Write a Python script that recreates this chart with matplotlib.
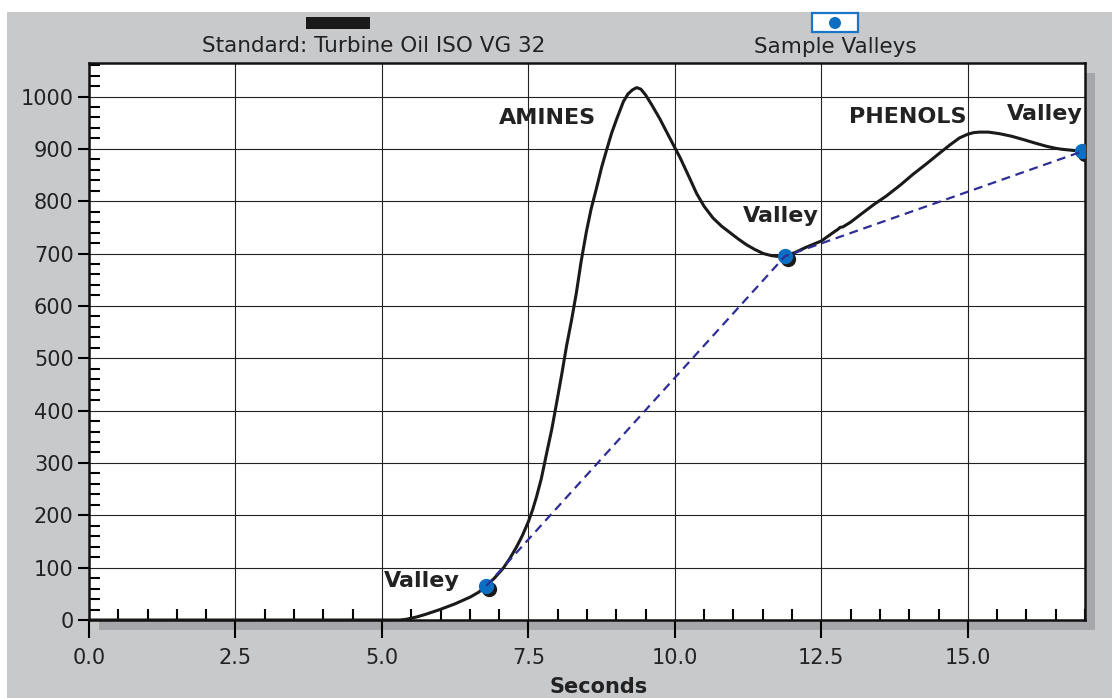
import matplotlib
matplotlib.use('Agg')
import matplotlib.pyplot as plt
from matplotlib.patches import Rectangle, Circle
from matplotlib.ticker import MultipleLocator, FormatStrFormatter
import matplotlib.transforms as mtransforms

# ---- data ----
seconds = [0.0, 1.0, 2.0, 3.0, 4.0, 5.0, 5.3, 5.4, 5.48, 5.6, 5.75, 5.99, 6.25,
           6.51, 6.65, 6.78, 6.92, 7.07, 7.18, 7.30, 7.40, 7.50, 7.57, 7.64,
           7.72, 7.81, 7.90, 7.98, 8.07, 8.15, 8.24, 8.32, 8.40, 8.49, 8.57,
           8.66, 8.75, 8.84, 8.92, 9.01, 9.12, 9.20, 9.28, 9.35, 9.42, 9.50,
           9.60, 9.74, 9.87, 10.0, 10.09, 10.26, 10.37, 10.50, 10.65, 10.80,
           10.94, 11.08, 11.22, 11.36, 11.51, 11.65, 11.80, 11.88, 12.05,
           12.24, 12.50, 12.70, 12.78, 12.82, 12.87, 13.0, 13.21, 13.40, 13.61,
           13.85, 14.06, 14.30, 14.52, 14.70, 14.86, 15.0, 15.10, 15.20, 15.35,
           15.54, 15.75, 15.94, 16.15, 16.34, 16.50, 16.62, 16.80, 16.95, 17.0]
response = [0, 0, 0, 0, 0, 0, 0, 1, 3, 6, 11, 20, 31,
            44, 53, 65, 80, 99, 117, 140, 162, 188, 210, 236,
            270, 318, 365, 414, 470, 523, 575, 626, 685, 742, 785,
            824, 865, 900, 930, 958, 990, 1005, 1013, 1017, 1014, 1003,
            985, 958, 930, 902, 883, 842, 815, 790, 768, 752,
            740, 728, 717, 708, 700, 696, 694, 695, 702,
            712, 724, 740, 746, 750, 751, 760, 778, 794, 810,
            831, 851, 872, 892, 908, 921, 928, 931, 932, 932,
            929, 924, 918, 911, 905, 901, 899, 897, 895, 895]

valley_x = [6.78, 11.88, 16.95]
valley_y = [65, 695, 895]

x_ticks = [0.0, 2.5, 5.0, 7.5, 10.0, 12.5, 15.0]
y_ticks = [0, 100, 200, 300, 400, 500, 600, 700, 800, 900, 1000]

labels = [("AMINES", 7.82, 959), ("PHENOLS", 13.98, 961),
          ("Valley", 16.31, 967), ("Valley", 11.81, 772), ("Valley", 5.68, 75)]

series_names = ["Standard: Turbine Oil ISO VG 32", "Sample Valleys"]
x_title = "Seconds"

# ---- figure ----
W, H = 1112, 698
fig = plt.figure(figsize=(W / 100, H / 100), dpi=100, facecolor='white')
plt.rcParams['font.family'] = ['DejaVu Sans']


def fx(px):
    return px / W


def fy(py):
    return 1 - py / H


BG = '#c8c9cb'
SHADOW = '#a6a7aa'
TXT = '#222222'

fig.patches.append(Rectangle((fx(7), 0), 1, fy(12), transform=fig.transFigure,
                             facecolor=BG, edgecolor='none', zorder=-10))

ax_l, ax_r, ax_t, ax_b = 89, 1085, 63, 620
fig.patches.append(Rectangle((fx(ax_l + 10), fy(ax_b + 10)), (ax_r - ax_l) / W,
                             (ax_b - ax_t) / H, transform=fig.transFigure,
                             facecolor=SHADOW, edgecolor='none', zorder=-5))
ax = fig.add_axes([fx(ax_l), fy(ax_b), (ax_r - ax_l) / W, (ax_b - ax_t) / H])
ax.set_facecolor('white')
ax.set_xlim(0, 17.0)
ax.set_ylim(0, 1064)

ax.set_xticks(x_ticks)
ax.set_yticks(y_ticks)
ax.xaxis.set_major_formatter(FormatStrFormatter('%.1f'))
ax.xaxis.set_minor_locator(MultipleLocator(0.5))
ax.yaxis.set_minor_locator(MultipleLocator(20))
ax.tick_params(axis='x', which='major', direction='out', length=13, width=1.5,
               labelsize=15, labelcolor=TXT, pad=7)
ax.tick_params(axis='y', which='major', direction='out', length=8, width=1.5,
               labelsize=15, labelcolor=TXT, pad=3)
ax.tick_params(which='minor', direction='in', length=8, width=1.5)
ax.grid(which='major', color='#222222', lw=0.8)
ax.set_axisbelow(True)
for s in ax.spines.values():
    s.set_linewidth(1.8)
    s.set_color('#111111')

ax.plot(seconds, response, color='#1a1a1a', lw=2.2, zorder=3,
        solid_joinstyle='round', solid_capstyle='round')

shadow_tr = ax.transData + mtransforms.ScaledTranslation(3 / 100, -3 / 100,
                                                         fig.dpi_scale_trans)
ax.plot(valley_x, valley_y, 'o', color='#1a1a1a', ms=11, mew=0,
        transform=shadow_tr, zorder=5)
ax.plot(valley_x, valley_y, 'o', color='#0a6fc2', ms=11, mew=0, zorder=6)
ax.plot(valley_x, valley_y, color='#2e2e96', lw=1.6, ls=(0, (4, 2.6)), zorder=7)

for txt, x, y in labels:
    ax.text(x, y, txt, ha='center', va='center', fontsize=16,
            fontweight='bold', color=TXT, zorder=8)

# ---- legend ----
fig.patches.append(Rectangle((fx(306), fy(29)), 64 / W, 12 / H,
                             transform=fig.transFigure, facecolor='#1a1a1a',
                             edgecolor='none'))
fig.text(fx(374), fy(46), series_names[0], ha='center', va='center',
         fontsize=15.5, color=TXT)
fig.patches.append(Rectangle((fx(812), fy(32)), 46 / W, 19 / H,
                             transform=fig.transFigure, facecolor='white',
                             edgecolor='#1a75c8', lw=1.6))
fig.patches.append(Circle((835, H - 23), 6, transform=None,
                          facecolor='#0a6fc2', edgecolor='none'))
fig.text(fx(835), fy(47), series_names[1], ha='center', va='center',
         fontsize=15.5, color=TXT)

fig.text(fx(599), fy(687), x_title, ha='center', va='center', fontsize=15,
         fontweight='bold', color=TXT)

fig.savefig('out.png', dpi=100, facecolor='white')
